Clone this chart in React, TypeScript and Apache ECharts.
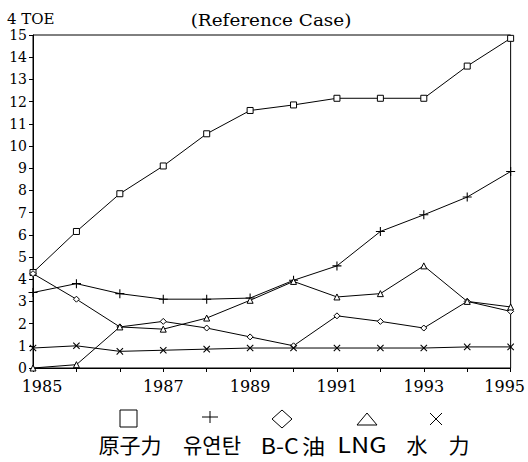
import React, { useEffect, useRef } from "react";
import * as echarts from "echarts";

const xTickLabels = ["1985", "", "", "1987", "", "1989", "", "1991", "", "1993", "", "1995"];
const seriesNames = ["原子力", "유연탄", "B-C油", "LNG", "水　力"];
const nuclear = [4.3, 6.15, 7.85, 9.1, 10.55, 11.6, 11.85, 12.15, 12.15, 12.15, 13.6, 14.85];
const coal = [3.4, 3.8, 3.35, 3.1, 3.1, 3.15, 3.95, 4.6, 6.15, 6.9, 7.7, 8.85];
const bcOil = [4.25, 3.1, 1.85, 2.1, 1.8, 1.4, 1.0, 2.35, 2.1, 1.8, 3.0, 2.55];
const lng = [0, 0.15, 1.85, 1.75, 2.25, 3.05, 3.9, 3.2, 3.35, 4.6, 3.0, 2.75];
const hydro = [0.9, 1.0, 0.75, 0.8, 0.85, 0.9, 0.9, 0.9, 0.9, 0.9, 0.95, 0.95];
const yMin = 0;
const yMax = 15;
const yStep = 1;
const unitLabel = "4 TOE";
const caseLabel = "(Reference Case)";

const plusPath = "path://M4.4,0h1.2v4.4h4.4v1.2h-4.4v4.4h-1.2v-4.4h-4.4v-1.2h4.4z";

export default function App() {
  const ref = useRef<HTMLDivElement>(null);
  useEffect(() => {
    if (!ref.current) return;
    const chart = echarts.init(ref.current, null, { renderer: "svg" });
    const line = (name: string, data: number[], symbol: string, size: number, rotate = 0, filled = false) => ({
      name,
      type: "line",
      data,
      symbol,
      symbolSize: size,
      symbolRotate: rotate,
      showSymbol: true,
      lineStyle: { color: "#000", width: 1 },
      itemStyle: { color: filled ? "#000" : "#fff", borderColor: "#000", borderWidth: filled ? 0 : 1 },
      emphasis: { disabled: true },
      z: 3,
    });
    const serif = "DejaVu Serif";
    const cjk = "Noto Sans CJK KR";
    const my = 419;
    const ty = 444;
    const legendX = [130, 212, 293, 362, 438];
    const labelStyle = (i: number) => {
      if (i === 2) {
        return {
          text: "{l|B-C}{c|油}",
          rich: {
            l: { fontFamily: cjk, fontSize: 21, fill: "#000" },
            c: { fontFamily: cjk, fontSize: 21, fill: "#000", padding: [0, 0, 0, 3] },
          },
        };
      }
      return { text: seriesNames[i], fontFamily: cjk, fontSize: 21, fill: "#000" };
    };
    chart.setOption({
      animation: false,
      backgroundColor: "#fff",
      grid: { left: 33, right: 12, top: 35, bottom: 94, show: true, borderColor: "#000", borderWidth: 1, backgroundColor: "transparent" },
      xAxis: {
        type: "category",
        data: xTickLabels,
        boundaryGap: false,
        axisLine: { lineStyle: { color: "#000", width: 1 } },
        axisTick: { show: true, interval: 0, length: 4, lineStyle: { color: "#000" } },
        axisLabel: {
          interval: 0,
          margin: 10,
          color: "#000",
          fontFamily: serif,
          fontSize: 16,
          formatter: (v: string, i: number) => (i === 0 ? `{first|${v}}` : i === xTickLabels.length - 1 ? `{last|${v}}` : v),
          rich: {
            first: { fontFamily: serif, fontSize: 16, color: "#000", padding: [0, 0, 0, 18] },
            last: { fontFamily: serif, fontSize: 16, color: "#000", padding: [0, 12, 0, 0] },
          },
        },
        splitLine: { show: false },
      },
      yAxis: {
        type: "value",
        min: yMin,
        max: yMax,
        interval: yStep,
        axisLine: { show: true, lineStyle: { color: "#000", width: 1 } },
        axisTick: { show: true, length: 4, lineStyle: { color: "#000" } },
        axisLabel: { margin: 6, color: "#000", fontFamily: serif, fontSize: 14 },
        splitLine: { show: false },
      },
      series: [
        line(seriesNames[0], nuclear, "rect", 6),
        line(seriesNames[1], coal, plusPath, 9, 0, true),
        line(seriesNames[2], bcOil, "diamond", 6),
        line(seriesNames[3], lng, "triangle", 6),
        line(seriesNames[4], hydro, plusPath, 9, 45, true),
      ],
      graphic: [
        { type: "text", left: 7, top: 11, style: { text: unitLabel, fontFamily: serif, fontSize: 15, fill: "#000" } },
        { type: "text", x: 271, y: 20, scaleX: 1.15, style: { text: caseLabel, fontFamily: serif, fontSize: 16, fill: "#000", align: "center", verticalAlign: "middle" } },
        { type: "rect", shape: { x: 120, y: my - 9, width: 17, height: 17 }, style: { fill: "none", stroke: "#000", lineWidth: 1 } },
        { type: "line", shape: { x1: 202, y1: my - 2, x2: 218, y2: my - 2 }, style: { stroke: "#000", lineWidth: 1 } },
        { type: "line", shape: { x1: 210, y1: my - 8, x2: 210, y2: my + 4 }, style: { stroke: "#000", lineWidth: 1 } },
        { type: "polygon", shape: { points: [[282, my - 9], [292, my], [282, my + 9], [272, my]] }, style: { fill: "none", stroke: "#000", lineWidth: 1 } },
        { type: "polygon", shape: { points: [[367, my - 6], [377, my + 6], [357, my + 6]] }, style: { fill: "none", stroke: "#000", lineWidth: 1 } },
        { type: "line", shape: { x1: 430, y1: my - 6, x2: 442, y2: my + 6 }, style: { stroke: "#000", lineWidth: 1 } },
        { type: "line", shape: { x1: 442, y1: my - 6, x2: 430, y2: my + 6 }, style: { stroke: "#000", lineWidth: 1 } },
        ...legendX.map((cx, i) => ({
          type: "text",
          x: cx,
          y: ty,
          scaleX: i === 3 ? 1.2 : i === 2 ? 1.1 : 1,
          style: { ...labelStyle(i), align: "center", verticalAlign: "middle" },
        })),
      ],
    });
    return () => chart.dispose();
  }, []);
  return <div ref={ref} style={{ position: "absolute", left: 0, top: 0, width: 528, height: 462 }} />;
}
